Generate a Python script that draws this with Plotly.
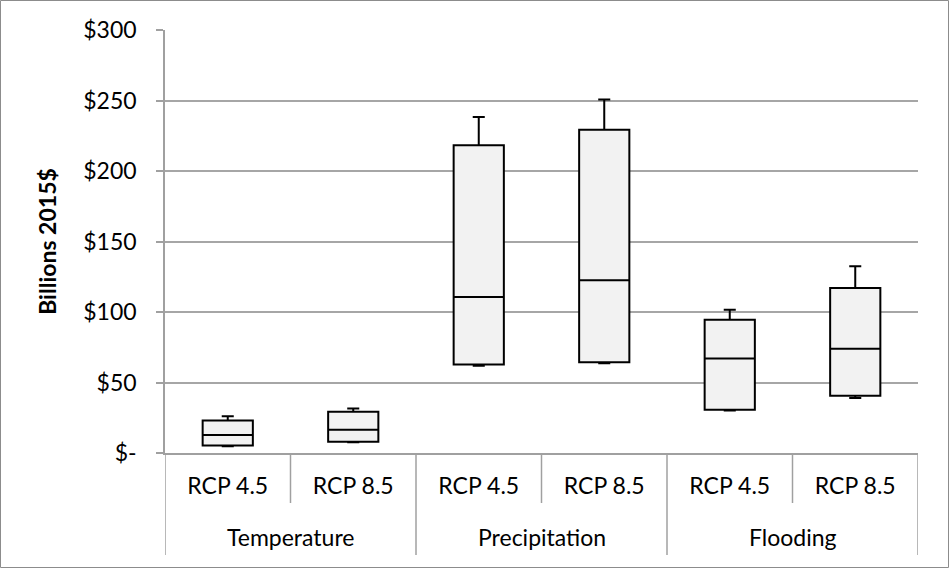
import plotly.graph_objects as go

# ---- data ----
hazards = ["Temperature", "Precipitation", "Flooding"]
scenarios = ["RCP 4.5", "RCP 8.5", "RCP 4.5", "RCP 8.5", "RCP 4.5", "RCP 8.5"]
lower = [4.8, 7.7, 61.9, 63.6, 30.1, 39.0]
q1 = [5.3, 8.0, 62.8, 64.3, 30.6, 40.6]
median = [12.7, 16.5, 110.7, 122.6, 67.1, 74.0]
q3 = [23.1, 29.3, 218.3, 229.3, 94.5, 117.0]
upper = [26.0, 31.6, 238.3, 250.7, 101.6, 132.4]
y_tickvals = [0, 50, 100, 150, 200, 250, 300]
y_ticktext = ["$-", "$50", "$100", "$150", "$200", "$250", "$300"]

W, H = 949, 568
L, R, T, B = 165, 31, 30, 115
FONT = "Lato"
GRID = "#a6a6a6"
AXIS = "#a0a0a0"

n = len(scenarios)
per_group = n // len(hazards)
xpos = list(range(n))

fig = go.Figure()
fig.add_trace(go.Box(
    x=xpos,
    lowerfence=lower, q1=q1, median=median, q3=q3, upperfence=upper,
    fillcolor="#f2f2f2",
    line=dict(color="black", width=2),
    whiskerwidth=0.24,
    boxpoints=False,
    showlegend=False,
    hoverinfo="skip",
))

pw = W - L - R
ph = H - T - B

def py(pix_below_axis):
    return -pix_below_axis / ph

# inner separators (between scenarios in a group)
for g in range(len(hazards)):
    for k in range(1, per_group):
        xb = g * per_group + k - 0.5
        fig.add_shape(type="line", xref="x", yref="paper", x0=xb, x1=xb,
                      y0=0, y1=py(50), line=dict(color=AXIS, width=1.5))
# outer dividers (between groups)
for g in range(len(hazards) + 1):
    xb = g * per_group - 0.5
    fig.add_shape(type="line", xref="x", yref="paper", x0=xb, x1=xb,
                  y0=0, y1=py(102), line=dict(color=AXIS, width=1.5))
# group labels
for g, name in enumerate(hazards):
    fig.add_annotation(x=g * per_group + (per_group - 1) / 2, xref="x",
                       y=py(84), yref="paper", text=name, showarrow=False,
                       xanchor="center", yanchor="middle",
                       font=dict(family=FONT, size=23, color="black"))

# chart border
fig.add_shape(type="rect", xref="paper", yref="paper",
              x0=-(L - 0.5) / pw, x1=1 + (R - 0.5) / pw,
              y0=-(B - 0.5) / ph, y1=1 + (T - 0.5) / ph,
              line=dict(color="#8c8c8c", width=1), fillcolor="rgba(0,0,0,0)", layer="below")

fig.update_layout(
    width=W, height=H,
    margin=dict(l=L, r=R, t=T, b=B, pad=0),
    paper_bgcolor="white", plot_bgcolor="white",
    font=dict(family=FONT, size=23, color="black"),
    boxgap=0.6, boxgroupgap=0,
    xaxis=dict(
        range=[-0.5, n - 0.5],
        tickmode="array", tickvals=xpos, ticktext=scenarios,
        showline=True, linecolor=AXIS, linewidth=1.5,
        ticks="", showgrid=False, zeroline=False,
        ticklabelstandoff=12,
        tickfont=dict(family=FONT, size=23, color="black"),
    ),
    yaxis=dict(
        range=[0, 300],
        tickmode="array", tickvals=y_tickvals, ticktext=y_ticktext,
        showgrid=True, gridcolor=GRID, gridwidth=1.5,
        showline=True, linecolor=AXIS, linewidth=1.5,
        ticks="outside", ticklen=7, tickcolor=AXIS, tickwidth=1.5,
        ticklabelstandoff=15,
        zeroline=False,
        tickfont=dict(family=FONT, size=23, color="black"),
        title=dict(text="<b>Billions 2015$</b>", font=dict(family=FONT, size=23, color="black"), standoff=20),
    ),
)

fig.write_html("out.html", config={"displayModeBar": False},
               post_script="document.body.style.margin='0';document.body.style.overflow='hidden';")
